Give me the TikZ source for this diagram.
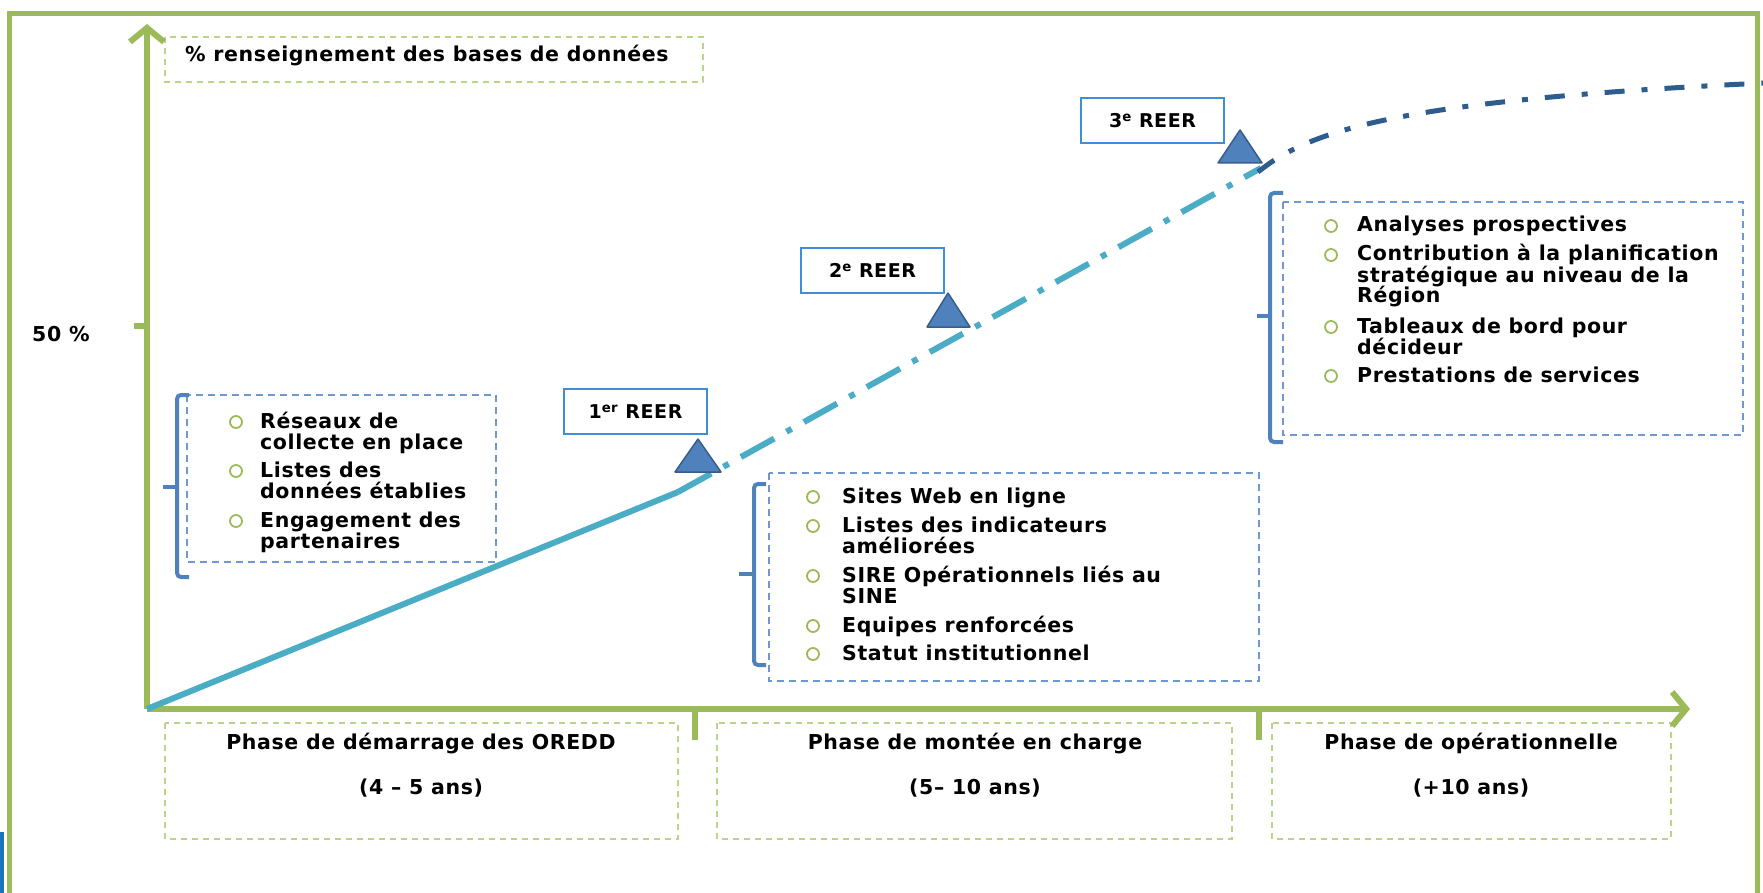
\documentclass[tikz,border=0pt]{standalone}
\usepackage{fontspec}
\setmainfont{DejaVu Sans}[LetterSpace=3]
\usetikzlibrary{arrows.meta}
\definecolor{frameG}{HTML}{9BBB59}
\definecolor{lightG}{HTML}{B9D58A}
\definecolor{boxB}{HTML}{6F98D2}
\definecolor{brkB}{HTML}{4F81BD}
\definecolor{reerB}{HTML}{3D8FD9}
\definecolor{triF}{HTML}{4F81BD}
\definecolor{triD}{HTML}{385D8A}
\definecolor{lineL}{HTML}{4BACC6}
\definecolor{lineD}{HTML}{2E5C8F}
\definecolor{stripB}{HTML}{1B75BB}
\newcommand{\ml}[1]{\vtop{\baselineskip=21pt\lineskiplimit=-100pt\lineskip=0pt\halign{##\hfil\cr#1\crcr}}}
\tikzset{
  frameline/.style={draw=frameG, line width=5pt},
  axisline/.style={draw=frameG, line width=6pt, -{Straight Barb[length=14pt,width=34pt]}},
  tickline/.style={draw=frameG, line width=6pt},
  gbox/.style={draw=lightG, line width=1.6pt, dash pattern=on 6pt off 5pt},
  bbox/.style={draw=boxB, line width=1.6pt, dash pattern=on 7pt off 5pt},
  brk/.style={draw=brkB, line width=4pt, rounded corners=4pt},
  txt/.style={inner sep=0pt, font=\fontsize{20.5}{21}\selectfont\bfseries},
  itm/.style={txt, anchor=base west},
  bul/.style={circle, draw=frameG, line width=1.8pt, minimum size=12pt, inner sep=0pt},
  reer/.style={draw=reerB, line width=1.8pt, fill=white, minimum width=143pt, minimum height=45pt, inner sep=0pt, font=\fontsize{19}{20}\selectfont\bfseries},
  tri/.style={fill=triF, draw=triD, line width=1.5pt, line join=round},
  solidL/.style={draw=lineL, line width=6pt},
  dashL/.style={draw=lineL, line width=6pt, dash pattern=on 38pt off 14pt on 6pt off 14pt},
  dashD/.style={draw=lineD, line width=5pt, dash pattern=on 20pt off 17pt on 6pt off 17pt}
}
\begin{document}
\begin{tikzpicture}[x=1pt,y=-1pt]
\useasboundingbox (0,0) rectangle (1763,893);
% frame
\draw[frameline] (9,895) -- (9,14) -- (1757,14) -- (1757,895);
\fill[stripB] (0,832) rectangle (4,893);
% title and phase boxes
\draw[gbox] (165,37) rectangle (703,82);
\node[txt, anchor=base west] (ytitle) at (185,62) {\% renseignement des bases de données};
\draw[gbox] (165,723) rectangle (678,839);
\draw[gbox] (717,723) rectangle (1232,839);
\draw[gbox] (1272,723) rectangle (1671,839);
\node[txt, anchor=base] (pA) at (421,749) {Phase de démarrage des OREDD};
\node[txt, anchor=base] (pAy) at (421,794) {(4 – 5 ans)};
\node[txt, anchor=base] (pB) at (975,749) {Phase de montée en charge};
\node[txt, anchor=base] (pBy) at (975,794) {(5– 10 ans)};
\node[txt, anchor=base] (pC) at (1471,749) {Phase de opérationnelle};
\node[txt, anchor=base] (pCy) at (1471,794) {(+10 ans)};
% axes
\coordinate (O) at (147,709);
\coordinate (ytip) at (147,24);
\coordinate (xtip) at (1690,709);
\draw[axisline] (O) -- (ytip);
\draw[axisline] (O) -- (xtip);
\draw[tickline] (134,326) -- (147,326);
\draw[tickline] (695,709) -- (695,740);
\draw[tickline] (1259,709) -- (1259,740);
\node[txt, anchor=base west] (fifty) at (32,341) {50 \%};
% bullet box 1
\draw[bbox] (187,395) rectangle (496,562);
\draw[brk] (189,395) -- (177,395) -- (177,577) -- (189,577);
\draw[brk] (177,487) -- (163,487);
\node[bul] (c1a) at (236,422) {};
\node[bul] (c1b) at (236,471) {};
\node[bul] (c1c) at (236,521) {};
\node[itm] (t1a) at (260,428) {\ml{Réseaux de\cr collecte en place}};
\node[itm] (t1b) at (260,477) {\ml{Listes des\cr données établies}};
\node[itm] (t1c) at (260,527) {\ml{Engagement des\cr partenaires}};
% bullet box 2
\draw[bbox] (769,473) rectangle (1259,681);
\draw[brk] (766,484) -- (754,484) -- (754,665) -- (766,665);
\draw[brk] (754,574) -- (739,574);
\node[bul] (c2a) at (813,497) {};
\node[bul] (c2b) at (813,526) {};
\node[bul] (c2c) at (813,576) {};
\node[bul] (c2d) at (813,626) {};
\node[bul] (c2e) at (813,654) {};
\node[itm] (t2a) at (842,503) {Sites Web en ligne};
\node[itm] (t2b) at (842,532) {\ml{Listes des indicateurs\cr améliorées}};
\node[itm] (t2c) at (842,582) {\ml{SIRE Opérationnels liés au\cr SINE}};
\node[itm] (t2d) at (842,632) {Equipes renforcées};
\node[itm] (t2e) at (842,660) {Statut institutionnel};
% bullet box 3
\draw[bbox] (1283,202) rectangle (1743,435);
\draw[brk] (1283,193) -- (1270,193) -- (1270,442) -- (1283,442);
\draw[brk] (1270,316) -- (1257,316);
\node[bul] (c3a) at (1331,226) {};
\node[bul] (c3b) at (1331,255) {};
\node[bul] (c3c) at (1331,327) {};
\node[bul] (c3d) at (1331,376) {};
\node[itm] (t3a) at (1357,232) {Analyses prospectives};
\node[itm] (t3b) at (1357,261) {\ml{Contribution à la planification\cr stratégique au niveau de la\cr Région}};
\node[itm] (t3c) at (1357,333) {\ml{Tableaux de bord pour\cr décideur}};
\node[itm] (t3d) at (1357,382) {Prestations de services};
% growth curve
\coordinate (k1) at (678,492);
\coordinate (k2) at (1261,168);
\coordinate (k3) at (1258,172);
\coordinate (kend) at (1765,83);
\draw[solidL] (O) -- (k1);
\draw[dashL] (k1) -- (k2);
\draw[dashD] (k3) .. controls (1310,130) and (1400,100) .. (kend);
% milestones
\filldraw[tri] (675,472) -- (698,439) -- (721,472) -- cycle;
\filldraw[tri] (927,327) -- (948,293) -- (970,327) -- cycle;
\filldraw[tri] (1218,163) -- (1240,130) -- (1262,163) -- cycle;
\node[reer] (r1) at (635.5,411.5) {1\textsuperscript{er} REER};
\node[reer] (r2) at (872.5,270.5) {2\textsuperscript{e} REER};
\node[reer] (r3) at (1152.5,120.5) {3\textsuperscript{e} REER};
\end{tikzpicture}
\end{document}
